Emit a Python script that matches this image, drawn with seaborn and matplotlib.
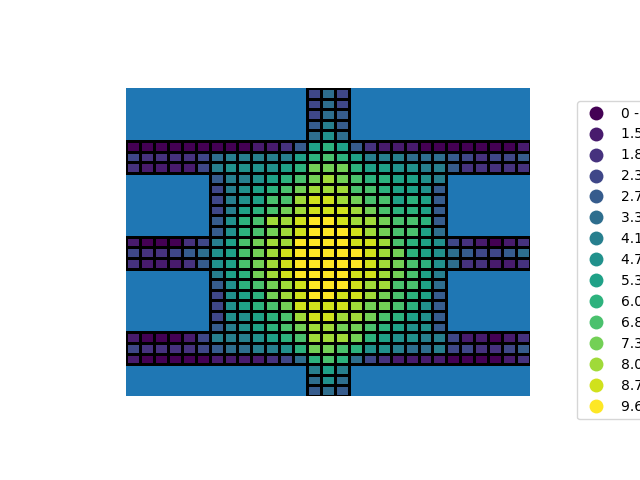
import numpy as np
import pandas as pd
import matplotlib
matplotlib.use("Agg")
import matplotlib.pyplot as plt
import seaborn as sns
from matplotlib.colors import ListedColormap, BoundaryNorm
from matplotlib.lines import Line2D

# class bounds (lower edges read from the legend, last upper edge estimated)
class_breaks = [0, 1.5, 1.8, 2.3, 2.7, 3.3, 4.1, 4.7, 5.3, 6.0, 6.8, 7.3, 8.0, 8.7, 9.6, 10.0]
legend_labels = ["0 - 1.5", "1.5 - 1.8", "1.8 - 2.3", "2.3 - 2.7", "2.7 - 3.3",
                 "3.3 - 4.1", "4.1 - 4.7", "4.7 - 5.3", "5.3 - 6.0", "6.0 - 6.8",
                 "6.8 - 7.3", "7.3 - 8.0", "8.0 - 8.7", "8.7 - 9.6", "9.6 - 10.0"]

# grid cells, rows top -> bottom: first occupied column and class of each cell (hex 0..e)
row_start = [13] * 5 + [0] * 3 + [6] * 6 + [0] * 3 + [6] * 6 + [0] * 3 + [13] * 3
row_classes = [
    "353", "353", "354", "464", "575",
    "00000 0 0001 12 48984 211 100 0 00001",
    "32222 3 5666 66 89a98 666 555 4 32334",
    "21111 3 6777 78 9bbb9 887 766 4 22222",
    "4667 89 abcba 998 876",
    "3678 9a bccca a98 874",
    "3678 aa cddcb aa8 984",
    "3689 ab cdddc ba9 984",
    "479a cc deedc cba a94",
    "479a bc deeed cba a85",
    "10002 3 68ab cc eeeed dca 987 3 21012",
    "32234 5 78ab cd eeeee dcb 987 5 43345",
    "21112 4 78ab cd eeeee dcb a97 5 22112",
    "689b cd eeeed dcb a86",
    "479a bc deeed cca a85",
    "3789 bc deedd cba 984",
    "3789 ab ddddc bba 974",
    "3778 9a cddcc ba9 874",
    "4678 9a bccbb a98 774",
    "10001 3 6667 89 acccb 987 766 3 11012",
    "32222 3 4556 67 9bba9 776 556 3 32234",
    "10000 0 1111 23 59a95 321 111 0 00012",
    "686", "575", "454",
]
n_cols = 29

mids = [(class_breaks[k] + class_breaks[k + 1]) / 2 for k in range(15)]
grid = np.full((len(row_classes), n_cols), np.nan)
for r, (s, txt) in enumerate(zip(row_start, row_classes)):
    codes = txt.replace(" ", "")
    for j, ch in enumerate(codes):
        if s + j < n_cols:
            grid[r, s + j] = mids[int(ch, 16)]
df = pd.DataFrame(grid)

vir = plt.get_cmap("viridis")
colors = [vir(k / 14) for k in range(15)]
cmap = ListedColormap(colors)
norm = BoundaryNorm(class_breaks, cmap.N)

fig = plt.figure(figsize=(6.4, 4.8), dpi=100)
ax = fig.add_axes([126 / 640, 84 / 480, 404 / 640, 308 / 480])
ax.set_facecolor("#1f77b4")
sns.heatmap(df, mask=df.isna(), cmap=cmap, norm=norm, linewidths=0.8, linecolor="black",
            cbar=False, xticklabels=False, yticklabels=False, ax=ax)
mesh = ax.collections[0]
valid = ~np.isnan(grid).ravel()
edge = np.zeros((valid.size, 4))
edge[valid] = (0, 0, 0, 1)
mesh.set_edgecolor(edge)
ax.set_xticks([])
ax.set_yticks([])
for sp in ax.spines.values():
    sp.set_visible(False)

handles = [Line2D([0], [0], linestyle="none", marker="o", markersize=10,
                  markerfacecolor=c, markeredgewidth=0) for c in colors]
fig.legend(handles, legend_labels, loc="upper left",
           bbox_to_anchor=(577 / 640, 1 - 101 / 480), bbox_transform=fig.transFigure,
           borderaxespad=0, fontsize=10)

fig.savefig("out.png", dpi=100)
